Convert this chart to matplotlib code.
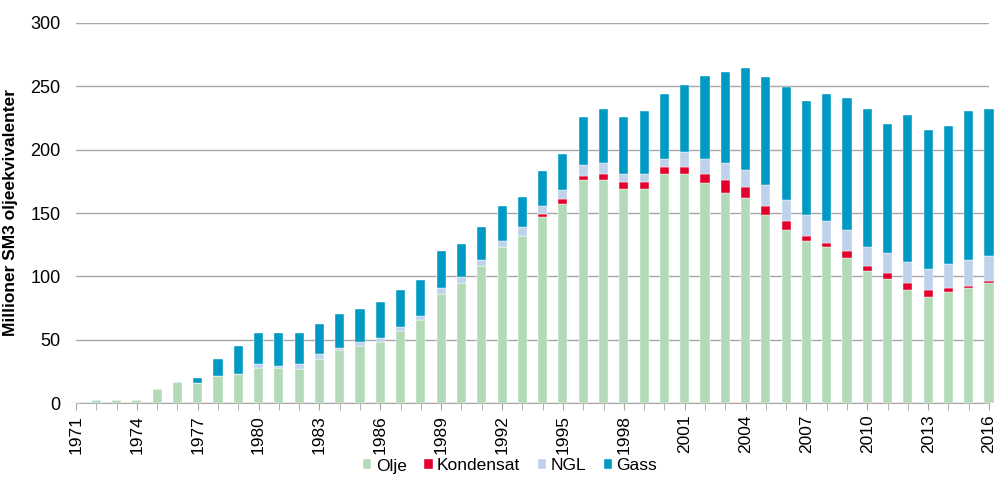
import matplotlib
matplotlib.use("Agg")
import matplotlib.pyplot as plt
import numpy as np

plt.rcParams['font.family'] = ['Liberation Sans', 'DejaVu Sans']

# data (millioner Sm3 o.e.)
years = list(range(1971, 2017))
olje = [1, 2.6, 2.6, 2.6, 11.3, 16.3, 16, 21, 23, 28, 27.5, 27, 35, 42, 45, 48,
        57, 65.5, 86, 94.5, 108, 123, 132, 147, 157, 175.7, 175.7, 169, 169, 181,
        181, 174, 165.5, 162, 148.6, 136.8, 128, 123, 114.7, 104.4, 97.6, 89.2,
        84, 87.4, 90.8, 94.4]
kondensat = [0] * 23 + [2.5, 3.8, 3.7, 5.3, 5.5, 5.5, 5, 5, 7, 10.5, 8.4, 7,
                        6.8, 3.7, 3.7, 5, 3.7, 5.3, 5.2, 5.3, 3.6, 1.8, 2.1]
ngl = [0] * 9 + [3, 2, 4, 4, 1.5, 3.5, 3.5, 3, 3, 5, 5, 5, 5, 7, 6, 7, 8.4, 8.4,
                 6.6, 6.6, 6.8, 12, 12, 13.4, 13.7, 16.6, 17, 16.8, 16.8, 17, 15,
                 15.2, 17, 16.8, 18.7, 20.3, 19.8]
gass = [0] * 6 + [3.7, 14, 22, 24, 26, 24, 23, 27, 25.5, 28, 29, 29, 29, 26, 26,
                  27.5, 24, 27.5, 28.7, 37.7, 42.6, 44.5, 49.5, 51.3, 53, 65,
                  71.6, 80, 85.3, 88.6, 90.3, 100.5, 103.7, 109, 102, 115.7,
                  109.2, 108.9, 117.6, 115.7]

series = [("Olje", olje, "#b3dab8"),
          ("Kondensat", kondensat, "#e3002c"),
          ("NGL", ngl, "#bed2ec"),
          ("Gass", gass, "#0099c3")]

fig = plt.figure(figsize=(10, 5), dpi=100)
ax = fig.add_axes([0.076, 0.194, 0.913, 0.76])

x = np.arange(len(years))
bottom = np.zeros(len(years))
for name, vals, col in series:
    vals = np.array(vals, dtype=float)
    ax.bar(x, vals, width=0.45, bottom=bottom, color=col, label=name,
           edgecolor="white", linewidth=0.3, clip_on=False, zorder=3)
    bottom += vals

ax.set_xlim(0, len(years) - 1)
ax.set_ylim(0, 300)
ax.set_yticks(range(0, 301, 50))
ax.yaxis.grid(True, color="#a6a6a6", linewidth=1)
ax.set_axisbelow(True)
for s in ["top", "right", "left"]:
    ax.spines[s].set_visible(False)
ax.spines["bottom"].set_color("#a6a6a6")
ax.tick_params(axis="y", length=0, labelsize=13, pad=11)

ax.set_xticks(x, minor=True)
ax.set_xticks(x[::3])
ax.set_xticklabels([str(y) for y in years[::3]], rotation=90, fontsize=12.5)
ax.tick_params(axis="x", which="both", length=5, color="#a6a6a6")

ax.set_ylabel("Millioner SM3 oljeekvivalenter", fontsize=12.5, fontweight="bold")
ax.yaxis.set_label_coords(-0.064, 0.5)

fig.legend(*ax.get_legend_handles_labels(), loc="center",
           bbox_to_anchor=(0.51, 0.068), ncol=4, frameon=False,
           fontsize=12.5, handlelength=0.5, handleheight=0.5, handletextpad=0.25,
           columnspacing=1.0)

fig.savefig("out.png", dpi=100)
